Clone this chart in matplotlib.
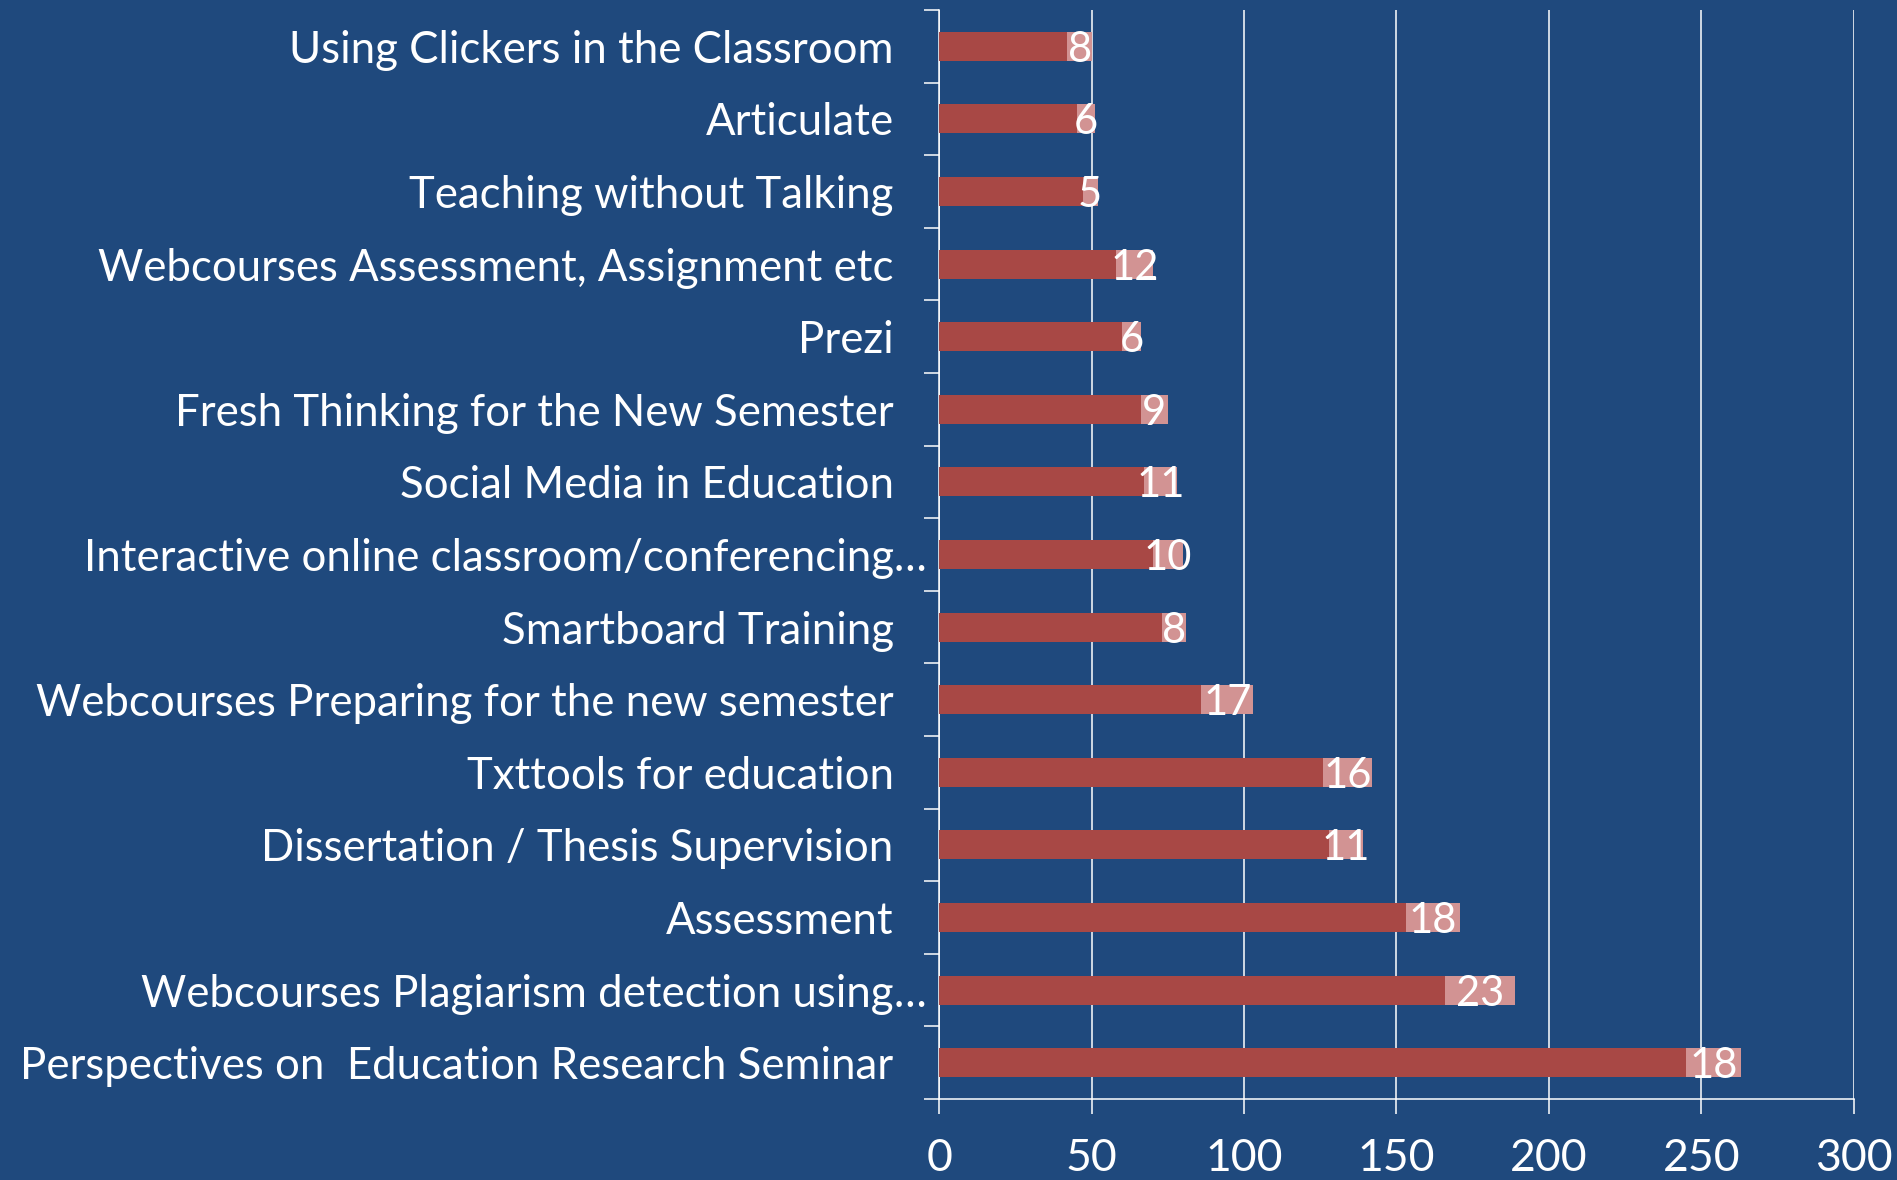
import matplotlib.pyplot as plt
import numpy as np

# Data (top to bottom as shown in the chart)
courses = [
    "Using Clickers in the Classroom",
    "Articulate",
    "Teaching without Talking",
    "Webcourses Assessment, Assignment etc",
    "Prezi",
    "Fresh Thinking for the New Semester",
    "Social Media in Education",
    "Interactive online classroom/conferencing",
    "Smartboard Training",
    "Webcourses Preparing for the new semester",
    "Txttools for education",
    "Dissertation / Thesis Supervision",
    "Assessment",
    "Webcourses Plagiarism detection using",
    "Perspectives on  Education Research Seminar",
]
truncated = [False] * 7 + [True] + [False] * 5 + [True, False]
base_vals = [42, 45, 47, 58, 60, 66, 67, 70, 73, 86, 126, 128, 153, 166, 245]
extra_vals = [8, 6, 5, 12, 6, 9, 11, 10, 8, 17, 16, 11, 18, 23, 18]
xticks = [0, 50, 100, 150, 200, 250, 300]

bg = "#1F497D"
red = "#A84845"
pink = "#D29393"

plt.rcParams["font.family"] = ["Lato", "DejaVu Sans"]

fig = plt.figure(figsize=(18.97, 11.80), dpi=100, facecolor=bg)
ax = fig.add_axes([0.4952, 0.0686, 0.4819, 0.9229], facecolor=bg)

n = len(courses)
y = np.arange(n)
ax.barh(y, base_vals, height=0.4, color=red, zorder=3)
ax.barh(y, extra_vals, left=base_vals, height=0.4, color=pink, zorder=3)

for yi, b, e in zip(y, base_vals, extra_vals):
    ax.text(b + e / 2, yi, str(e), ha="center", va="center_baseline",
            color="white", fontsize=30, zorder=4)

ax.set_xlim(0, 300)
ax.set_ylim(n - 0.5, -0.5)
ax.set_xticks(xticks)
ax.set_xticklabels([str(t) for t in xticks])
ax.set_yticks(y)
ax.set_yticklabels(courses)
ax.set_yticks(np.arange(n + 1) - 0.5, minor=True)

ax.tick_params(axis="y", which="major", length=0, pad=33, labelsize=31.5, labelcolor="white")
ax.tick_params(axis="y", which="minor", length=11, width=1.1, color="white", direction="out")
ax.tick_params(axis="x", length=11, width=1.1, color="white", pad=17, labelsize=32, labelcolor="white")

for yi, t in zip(y, truncated):
    if t:
        ax.annotate("\u2026", xy=(0, yi), xycoords="data", xytext=(-33, 0),
                    textcoords="offset points", ha="left", va="center_baseline",
                    color="white", fontsize=31.5, annotation_clip=False)

ax.grid(axis="x", color="white", linewidth=1.1, zorder=1)
for side in ["top", "right"]:
    ax.spines[side].set_visible(False)
for side in ["left", "bottom"]:
    ax.spines[side].set_color("white")
    ax.spines[side].set_linewidth(1.1)

fig.savefig("out.png", dpi=100, facecolor=bg)
